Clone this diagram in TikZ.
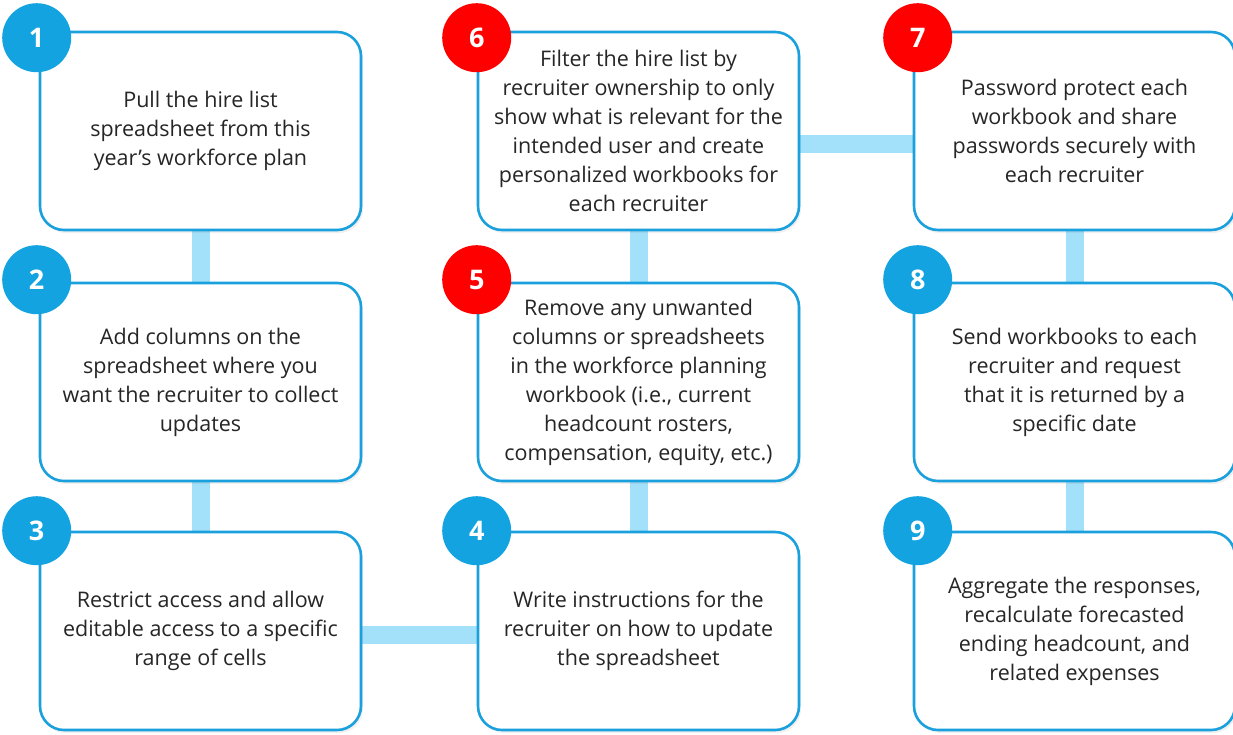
\documentclass[tikz,border=0pt]{standalone}
\usepackage{fontspec}
\setmainfont{Open Sans}
\usetikzlibrary{backgrounds,shadows}
\definecolor{stepblue}{HTML}{12A3E0}
\definecolor{stepred}{HTML}{FF0000}
\definecolor{linkblue}{HTML}{A3E1FB}
\definecolor{boxline}{HTML}{1AA0DD}
\definecolor{txtgray}{HTML}{262626}
\begin{document}
\begin{tikzpicture}[x=1pt,y=-1pt,
  stepbox/.style={rectangle,rounded corners=24pt,draw=boxline,line width=2.6pt,fill=white,
    minimum width=321pt,minimum height=198pt,inner sep=0pt,align=center,text=txtgray,
    font=\fontsize{21.5}{29}\selectfont,
    drop shadow={shadow xshift=2pt,shadow yshift=-3pt,opacity=.12}},
  num/.style={circle,minimum size=69pt,inner sep=0pt,text=white,font=\fontsize{27}{27}\selectfont\bfseries},
  link/.style={linkblue,line width=18pt}]
\useasboundingbox (0,0) rectangle (1233,734);
\begin{scope}[every node/.style={stepbox}]
    \node (s1) at (200.5,131) {Pull the hire list\\spreadsheet from this\\year's workforce plan};
    \node (s2) at (200.5,382) {Add columns on the\\spreadsheet where you\\want the recruiter to collect\\updates};
    \node (s3) at (200.5,631) {Restrict access and allow\\editable access to a specific\\range of cells};
    \node (s4) at (638.5,631) {Write instructions for the\\recruiter on how to update\\the spreadsheet};
    \node (s5) at (638.5,382) {Remove any unwanted\\columns or spreadsheets\\in the workforce planning\\workbook (i.e., current\\headcount rosters,\\compensation, equity, etc.)};
    \node (s6) at (638.5,131) {Filter the hire list by\\recruiter ownership to only\\show what is relevant for the\\intended user and create\\personalized workbooks for\\each recruiter};
    \node (s7) at (1074.5,131) {Password protect each\\workbook and share\\passwords securely with\\each recruiter};
    \node (s8) at (1074.5,382) {Send workbooks to each\\recruiter and request\\that it is returned by a\\specific date};
    \node (s9) at (1074.5,631) {Aggregate the responses,\\recalculate forecasted\\ending headcount, and\\related expenses};
\end{scope}
\begin{pgfonlayer}{background}
\draw[link] (s1) -- (s2);
\draw[link] (s2) -- (s3);
\draw[link] ([yshift=-4pt]s3.east) -- ([yshift=-4pt]s4.west);
\draw[link] (s4) -- (s5);
\draw[link] (s5) -- (s6);
\draw[link] ([yshift=-13pt]s6.east) -- ([yshift=-13pt]s7.west);
\draw[link] (s7) -- (s8);
\draw[link] (s8) -- (s9);
\end{pgfonlayer}
\node[num,fill=stepblue] (n1) at ([shift={(-2pt,-7pt)}]s1.north west) {1};
\node[num,fill=stepblue] (n2) at ([shift={(-2pt,2pt)}]s2.north west) {2};
\node[num,fill=stepblue] (n3) at ([shift={(-2pt,0pt)}]s3.north west) {3};
\node[num,fill=stepblue] (n4) at (s4.north west) {4};
\node[num,fill=stepred] (n5) at ([shift={(0pt,2pt)}]s5.north west) {5};
\node[num,fill=stepred] (n6) at ([shift={(0pt,-7pt)}]s6.north west) {6};
\node[num,fill=stepred] (n7) at ([shift={(5pt,-7pt)}]s7.north west) {7};
\node[num,fill=stepblue] (n8) at ([shift={(5pt,2pt)}]s8.north west) {8};
\node[num,fill=stepblue] (n9) at ([shift={(5pt,0pt)}]s9.north west) {9};
\end{tikzpicture}
\end{document}
